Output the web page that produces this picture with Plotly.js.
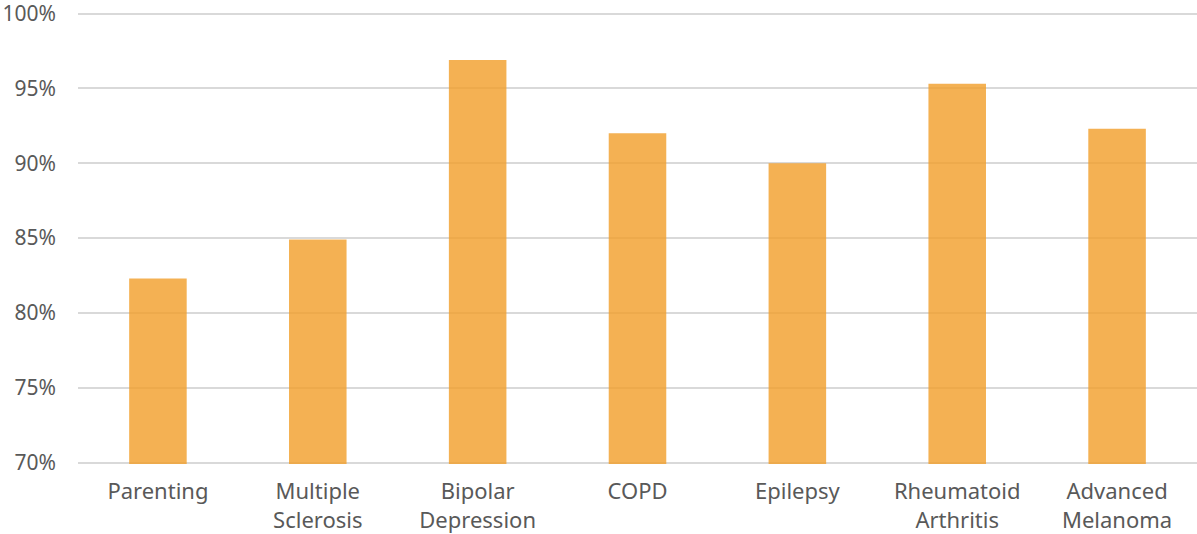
<!DOCTYPE html>
<html>
<head>
<meta charset="utf-8">
<script src="https://cdn.plot.ly/plotly-3.0.1.min.js"></script>
<style>
  html, body { margin: 0; padding: 0; background: #fff; }
  #chart { width: 1197px; height: 534px; }
</style>
</head>
<body>
<div id="chart"></div>
<script>
// Share of respondents per condition (percent)
const categories = ["Parenting", "Multiple Sclerosis", "Bipolar Depression", "COPD", "Epilepsy", "Rheumatoid Arthritis", "Advanced Melanoma"];
const tickLabels = ["Parenting", "Multiple<br>Sclerosis", "Bipolar<br>Depression", "COPD", "Epilepsy", "Rheumatoid<br>Arthritis", "Advanced<br>Melanoma"];
const values = [82.3, 84.9, 96.9, 92.0, 90.0, 95.3, 92.3];
const yTicks = [70, 75, 80, 85, 90, 95, 100];

const font = "'Noto Sans', sans-serif";

const trace = {
  type: "bar",
  x: categories,
  y: values,
  marker: { color: "rgba(241,158,40,0.8)", line: { width: 0 } },
  hoverinfo: "x+y"
};

const layout = {
  width: 1197,
  height: 534,
  margin: { l: 78, r: 0, t: 12, b: 70 },
  paper_bgcolor: "#ffffff",
  plot_bgcolor: "#ffffff",
  showlegend: false,
  bargap: 0.64,
  font: { family: font, size: 21, color: "#595959" },
  xaxis: {
    type: "category",
    tickvals: categories,
    ticktext: tickLabels,
    showgrid: false,
    zeroline: false,
    showline: false,
    ticks: "",
    ticklabelstandoff: 12,
    tickfont: { family: font, size: 22, color: "#595959" }
  },
  yaxis: {
    // small padding so the 70% and 100% gridlines are drawn inside the plot
    range: [69.9, 100.1],
    tickvals: yTicks,
    ticktext: yTicks.map(v => v + "%"),
    showgrid: true,
    gridcolor: "#d9d9d9",
    gridwidth: 2,
    zeroline: false,
    showline: false,
    ticks: "",
    ticklabelstandoff: 21,
    ticklabeloverflow: "allow",
    tickfont: { family: font, size: 21, color: "#595959" }
  }
};

Plotly.newPlot("chart", [trace], layout, { displayModeBar: false, staticPlot: true });
</script>
</body>
</html>
